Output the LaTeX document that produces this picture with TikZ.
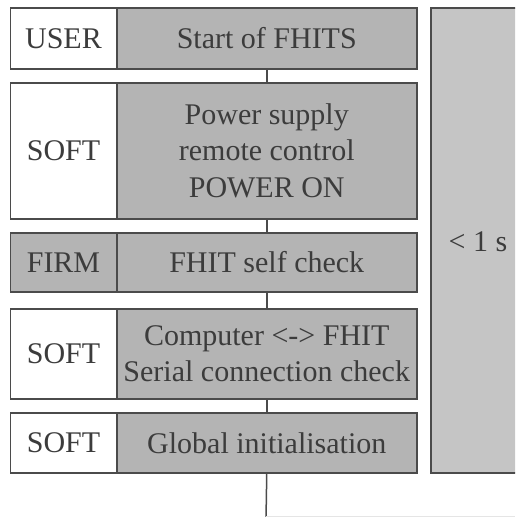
\documentclass[tikz,border=0pt]{standalone}
\usepackage{fontspec}
\setmainfont{Liberation Serif}
\definecolor{boxgray}{RGB}{180,180,180}
\definecolor{spangray}{RGB}{197,197,197}
\definecolor{edge}{RGB}{75,75,75}
\definecolor{txt}{RGB}{60,60,60}
\begin{document}
\begin{tikzpicture}[x=1pt,y=-1pt,font=\fontsize{30}{36.5}\selectfont,
	lab/.style={draw=edge,line width=1.5pt,fill=white,text=txt,minimum width=106.5pt,anchor=north west,inner sep=0pt,align=center},
	task/.style={draw=edge,line width=1.5pt,fill=boxgray,text=txt,minimum width=300pt,anchor=north west,inner sep=0pt,align=center},
	link/.style={draw=edge,line width=1.5pt}]
			\useasboundingbox (0,0) rectangle (515,517);
			\clip (0,0) rectangle (515,517);
			% time span on the right
			\node[draw=edge,line width=1.5pt,fill=spangray,minimum width=110pt,minimum height=465pt,anchor=north west,inner sep=0pt] (span) at (430,7) {};
			\node[text=txt] (spantxt) at (478,242) {< 1 s};
			% steps
			\node[lab,minimum height=61pt] (l1) at (9.5,7) {USER};
			\node[task,minimum height=61pt] (t1) at (116,7) {Start of FHITS};
			\node[lab,minimum height=136pt] (l2) at (9.5,82) {SOFT};
			\node[task,minimum height=136pt] (t2) at (116,82) {Power supply\\remote control\\POWER ON};
			\node[lab,fill=boxgray,minimum height=59pt] (l3) at (9.5,232) {FIRM};
			\node[task,minimum height=59pt] (t3) at (116,232) {FHIT self check};
			\node[lab,minimum height=90pt] (l4) at (9.5,308) {SOFT};
			\node[task,minimum height=90pt] (t4) at (116,308) {Computer <-> FHIT\\Serial connection check};
			\node[lab,minimum height=60pt] (l5) at (9.5,412) {SOFT};
			\node[task,minimum height=60pt] (t5) at (116,412) {Global initialisation};
			\coordinate (bend) at (266,520);
			\draw[link] (t1.south) -- (t2.north);
			\draw[link] (t2.south) -- (t3.north);
			\draw[link] (t3.south) -- (t4.north);
			\draw[link] (t4.south) -- (t5.north);
			\draw[link] (t5.south) -- (bend);
			\draw[draw=black!10,line width=1pt] (266,516.5) -- (515,516.5);
	\end{tikzpicture}
\end{document}
